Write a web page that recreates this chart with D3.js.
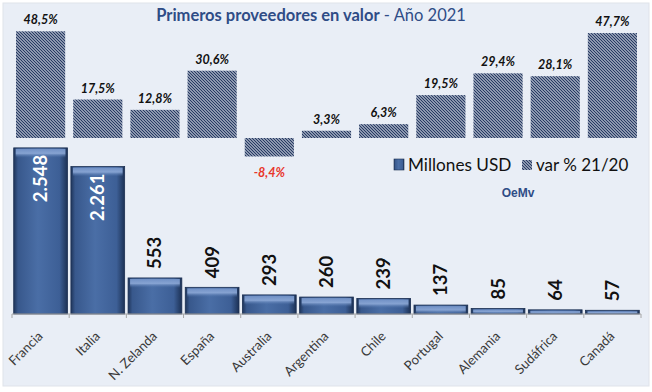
<!DOCTYPE html>
<html><head><meta charset="utf-8">
<script src="https://cdn.jsdelivr.net/npm/d3@7"></script>
<style>body{margin:0;background:#fff;}svg{display:block;}</style>
</head><body>
<svg id="c" width="652" height="392"></svg>
<script>
const categories = ["Francia","Italia","N. Zelanda","España","Australia","Argentina","Chile","Portugal","Alemania","Sudáfrica","Canadá"];
const millonesUSD = [2548,2261,553,409,293,260,239,137,85,64,57];
const varPct = [48.5,17.5,12.8,30.6,-8.4,3.3,6.3,19.5,29.4,28.1,47.7];
const valueLabels = ["2.548","2.261","553","409","293","260","239","137","85","64","57"];
const pctLabels = ["48,5%","17,5%","12,8%","30,6%","-8,4%","3,3%","6,3%","19,5%","29,4%","28,1%","47,7%"];
const legendLabels = ["Millones USD","var % 21/20"];

const FONT = "Lato, 'Open Sans', sans-serif";
const svg = d3.select("#c");
const defs = svg.append("defs");

const g1 = defs.append("linearGradient").attr("id","barH").attr("x1",0).attr("x2",1).attr("y1",0).attr("y2",0);
[["0%","#1f355a"],["8%","#38588c"],["45%","#4a6ea6"],["85%","#3d5f96"],["100%","#1c3155"]].forEach(s=>g1.append("stop").attr("offset",s[0]).attr("stop-color",s[1]));
const g2 = defs.append("linearGradient").attr("id","barTop").attr("x1",0).attr("x2",0).attr("y1",0).attr("y2",1);
[["0%","#6f8fc4",1],["50%","#8eaad8",0.9],["100%","#4c70a8",0]].forEach(s=>g2.append("stop").attr("offset",s[0]).attr("stop-color",s[1]).attr("stop-opacity",s[2]));
const pat = defs.append("pattern").attr("id","hatch").attr("patternUnits","userSpaceOnUse").attr("width",3).attr("height",3);
pat.append("rect").attr("width",3).attr("height",3).attr("fill","#eef1f7");
pat.append("path").attr("d","M-1,-1 L4,4 M-1,2 L1,4 M2,-1 L4,1").attr("stroke","#263a63").attr("stroke-width",1.4);

svg.append("rect").attr("x",3).attr("y",3).attr("width",646).attr("height",383).attr("fill","#e9eef6").attr("stroke","#dfe3ea");

const x = d3.scaleBand().domain(categories).range([12,641]).padding(0);
const yB = d3.scaleLinear().domain([0,3000]).range([314,118.4]);
const yT = d3.scaleLinear().domain([-10,50]).range([160,28]);
const bw = x.bandwidth()*0.94, tw = x.bandwidth()*0.86;

const gb = svg.append("g");
categories.forEach((c,i)=>{
  const cx = x(c)+x.bandwidth()/2, y0 = yB(0), y1 = yB(millonesUSD[i]), h = y0-y1;
  gb.append("rect").attr("x",cx-bw/2).attr("y",y1).attr("width",bw).attr("height",h).attr("fill","url(#barH)").attr("stroke","#1b2f52").attr("stroke-width",0.8);
  const th = Math.min(9,h-1);
  gb.append("rect").attr("x",cx-bw/2+2).attr("y",y1+1).attr("width",bw-4).attr("height",th).attr("fill","url(#barTop)");
  const inside = i<2;
  gb.append("text").attr("transform",`translate(${cx+6.5},${inside? y1+7 : y1-9}) rotate(-90)`)
    .attr("text-anchor", inside? "end":"start")
    .attr("font-family",FONT).attr("font-weight",700).attr("font-size",18.5)
    .attr("fill", inside? "#ffffff":"#111111").text(valueLabels[i]);
});

const axis = svg.append("g").attr("transform","translate(0,314)");
axis.append("line").attr("x1",12).attr("x2",641).attr("stroke","#a6a6a6");
const ticks = categories.map(c=>x(c)).concat([x.range()[1]]);
axis.selectAll("line.t").data(ticks).join("line").attr("class","t").attr("x1",d=>d).attr("x2",d=>d).attr("y1",0).attr("y2",4).attr("stroke","#a6a6a6");
axis.selectAll("text").data(categories).join("text")
  .attr("transform",d=>`translate(${x(d)+x.bandwidth()/2+3},${23}) rotate(-45)`)
  .attr("text-anchor","end").attr("font-family",FONT).attr("font-size",13.2).attr("fill","#3a3a3a").text(d=>d);

const gt = svg.append("g");
categories.forEach((c,i)=>{
  const cx = x(c)+x.bandwidth()/2, v = varPct[i];
  const ya = yT(Math.max(0,v)), yb = yT(Math.min(0,v));
  gt.append("rect").attr("x",cx-tw/2).attr("y",ya).attr("width",tw).attr("height",yb-ya).attr("fill","url(#hatch)");
  gt.append("text").attr("x",cx).attr("y", v>=0? ya-7 : yb+21)
    .attr("text-anchor","middle").attr("font-family",FONT).attr("font-weight",700).attr("font-style","italic")
    .attr("font-size",12.5).attr("fill", v>=0? "#111111":"#e8352a").text(pctLabels[i]);
});

const t = svg.append("text").attr("x",311).attr("y",21).attr("text-anchor","middle").attr("font-family",FONT).attr("font-size",16.5).attr("fill","#2f4c86");
t.append("tspan").attr("font-weight",700).text("Primeros proveedores en valor");
t.append("tspan").text(" - Año 2021");

const lg = svg.append("g");
lg.append("rect").attr("x",394).attr("y",159).attr("width",10).attr("height",11).attr("fill","url(#barH)").attr("stroke","#1b2f52").attr("stroke-width",0.6);
lg.append("text").attr("x",408).attr("y",171).attr("font-family",FONT).attr("font-size",17.2).attr("fill","#111").text(legendLabels[0]);
lg.append("rect").attr("x",522).attr("y",160).attr("width",10).attr("height",10).attr("fill","url(#hatch)");
lg.append("text").attr("x",536).attr("y",171).attr("font-family",FONT).attr("font-size",17).attr("fill","#111").text(legendLabels[1]);

svg.append("text").attr("x",518).attr("y",197).attr("text-anchor","middle").attr("font-family","'Liberation Sans', Arial, sans-serif").attr("font-weight",700).attr("font-size",12).attr("fill","#2f4c86").text("OeMv");
</script>
</body></html>
